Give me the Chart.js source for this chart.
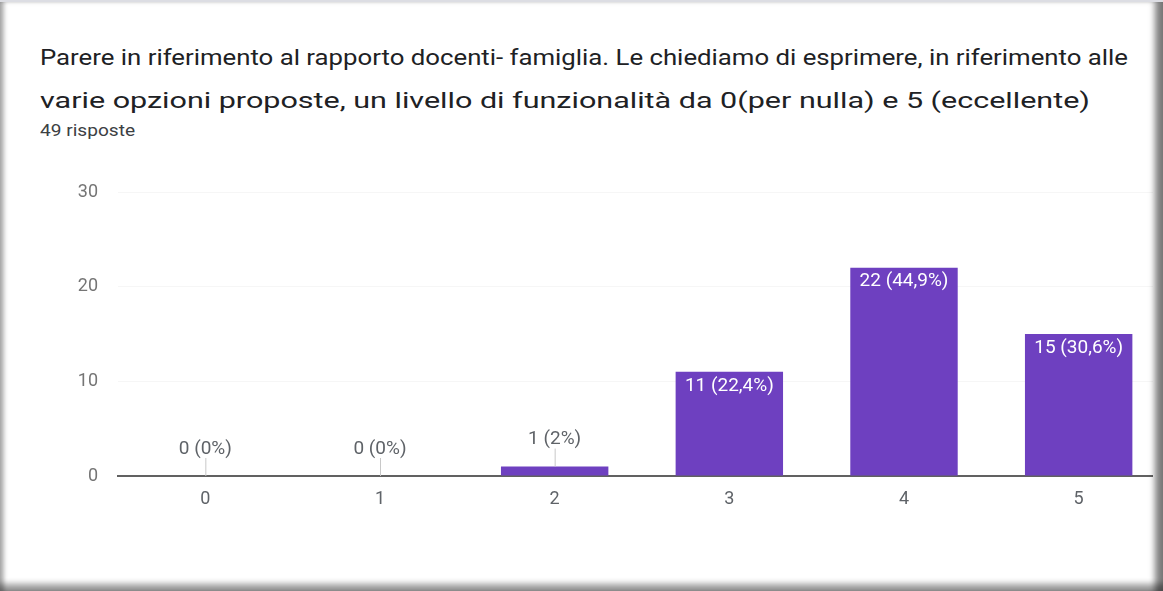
<!DOCTYPE html>
<html>
<head>
<meta charset="utf-8">
<script src="https://cdn.jsdelivr.net/npm/chart.js@4"></script>
<style>
  html, body { margin: 0; padding: 0; background: #fff; overflow: hidden; }
  body { width: 1163px; height: 591px; position: relative; font-family: Roboto, Arial, sans-serif; }
  .line { position: absolute; left: 40px; white-space: nowrap; transform-origin: 0 50%; }
  #t1, #t2 { font-size: 22px; color: #202124; }
  #t1 { top: 45px; }
  #t2 { top: 88px; }
  #sub { top: 121px; font-size: 16px; color: #3c4043; }
  #wrap { position: absolute; left: 0; top: 0; width: 1153px; height: 591px; overflow: hidden; }
  #box { position: absolute; left: 0; top: 0; width: 1166px; height: 591px; }
  #frame {
    position: absolute; left: 0; top: 0; width: 1163px; height: 591px; box-sizing: border-box;
    border-top: 2px solid #dcdde3; pointer-events: none;
    box-shadow: inset 6px 0 4px -2px rgba(0,0,0,0.3),
                inset -11px 0 6px -3px rgba(0,0,0,0.5),
                inset 0 -10px 6px -3px rgba(0,0,0,0.4);
  }
</style>
</head>
<body>
<div class="line" id="t1">Parere in riferimento al rapporto docenti- famiglia. Le chiediamo di esprimere, in riferimento alle</div>
<div class="line" id="t2">varie opzioni proposte, un livello di funzionalità da 0(per nulla) e 5 (eccellente)</div>
<div class="line" id="sub">49 risposte</div>
<div id="wrap"><div id="box"><canvas id="chart"></canvas></div></div>
<div id="frame"></div>
<script>
// categorie e risposte
const categories = ['0', '1', '2', '3', '4', '5'];
const counts = [0, 0, 1, 11, 22, 15];
const percents = ['0%', '0%', '2%', '22,4%', '44,9%', '30,6%'];
const yTicks = [0, 10, 20, 30];

// stretch the header lines to the width they have in the screenshot
function fitWidth(id, w) {
  const el = document.getElementById(id);
  el.style.transform = 'scaleX(' + (w / el.getBoundingClientRect().width) + ')';
}
fitWidth('t1', 1088);
fitWidth('t2', 1050);
fitWidth('sub', 95);

const barLabels = {
  id: 'barLabels',
  afterDatasetsDraw(chart) {
    const ctx = chart.ctx;
    const meta = chart.getDatasetMeta(0);
    ctx.save();
    ctx.font = '19px Roboto, Arial, sans-serif';
    ctx.textAlign = 'center';
    ctx.textBaseline = 'middle';
    meta.data.forEach((bar, i) => {
      const txt = counts[i] + ' (' + percents[i] + ')';
      const h = bar.base - bar.y;
      if (h > 30) {
        ctx.fillStyle = '#ffffff';
        ctx.fillText(txt, bar.x, bar.y + 14);
      } else {
        ctx.strokeStyle = '#c8c8c8';
        ctx.lineWidth = 1;
        ctx.beginPath();
        ctx.moveTo(bar.x + 0.5, bar.y);
        ctx.lineTo(bar.x + 0.5, bar.y - 18);
        ctx.stroke();
        ctx.fillStyle = '#5f6368';
        ctx.fillText(txt, bar.x, bar.y - 27);
      }
    });
    ctx.restore();
  }
};

new Chart(document.getElementById("chart"),
  {
    type: 'bar',
    data:
    {
      labels: categories,
      datasets:
      [
        {
          data: counts,
          backgroundColor: '#6e40c0',
          borderWidth: 0,
          barPercentage: 0.615,
          categoryPercentage: 1
        }
      ]
    },
    options:
    {
      responsive: true,
      maintainAspectRatio: false,
      animation: false,
      layout: { padding: { top: 192, bottom: 75, left: 0, right: 0 } },
      plugins: {
        legend: { display: false },
        tooltip: { enabled: false }
      },
      scales: {
        x: {
          grid: { display: false, drawTicks: false },
          border: { display: true, color: '#616161', width: 2 },
          ticks: { color: '#5f6368', padding: 13, font: { family: 'Roboto', size: 18 } },
          afterFit: (s) => { s.height = 40; }
        },
        y: {
          min: 0,
          max: 30,
          afterBuildTicks: (s) => { s.ticks = yTicks.map(v => ({ value: v })); },
          grid: { color: '#f6f6f6', drawTicks: false },
          border: { display: false },
          ticks: { color: '#757575', padding: 20, font: { family: 'Roboto', size: 18 } },
          afterFit: (s) => { s.width = 118; }
        }
      }
    },
    plugins: [barLabels]
  });
</script>
</body>
</html>
